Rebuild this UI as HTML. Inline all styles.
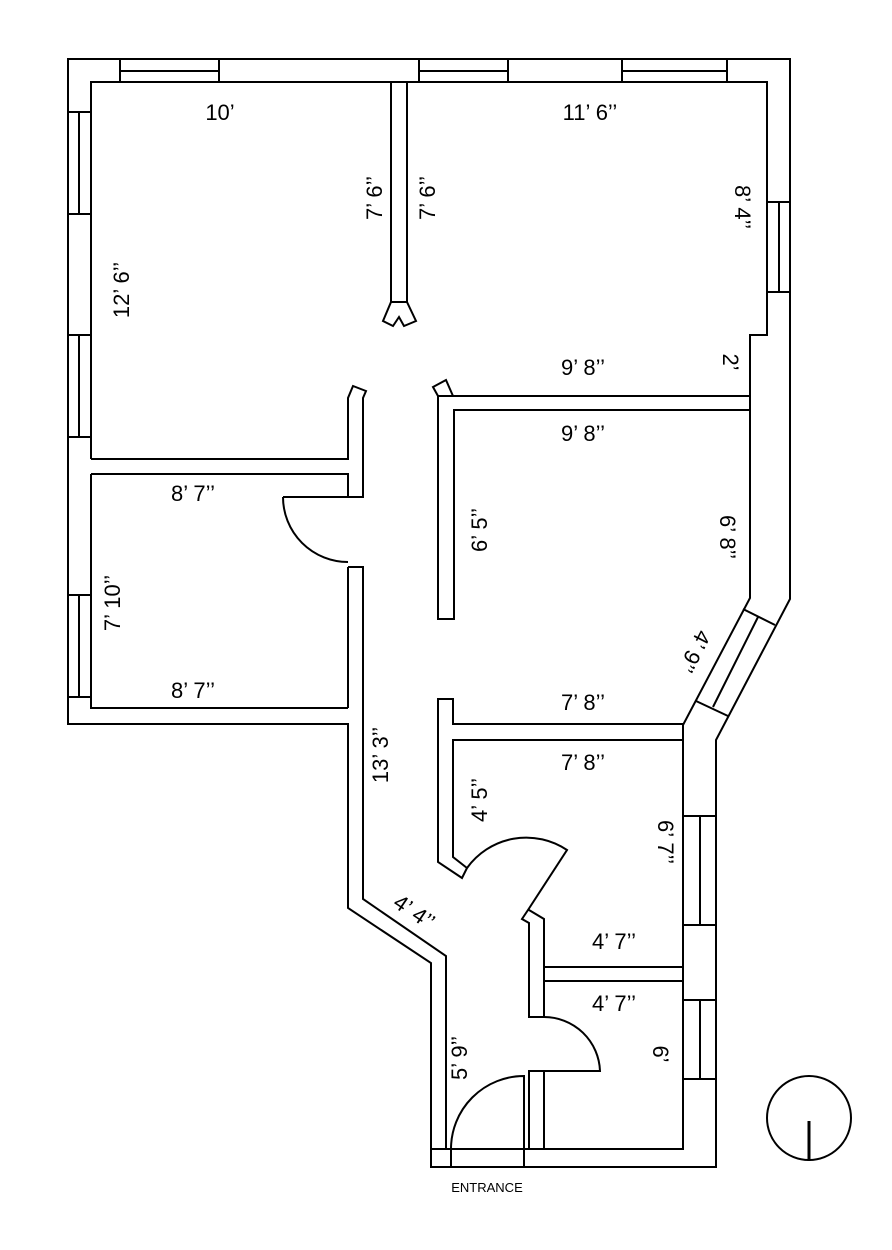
<!DOCTYPE html>
<html><head><meta charset="utf-8"><style>
html,body{margin:0;padding:0;background:#fff;}
svg{display:block;}
text{font-family:"Liberation Sans",sans-serif;font-size:22px;fill:#000;}
</style></head><body>
<svg width="892" height="1250" viewBox="0 0 892 1250" xmlns="http://www.w3.org/2000/svg">
<g fill="none" stroke="#000" stroke-width="2" stroke-linejoin="miter">
<path d="M348,724 L68,724 L68,59 L790,59 L790,599 L716,740 L716,1167 L431,1167 L431,963 L348,908 Z"/>
<path d="M91,459 L91,82 L767,82 L767,335 L750,335 L750,598 L683,725 L683,1149 L431,1149"/>
<path d="M68,112 H91 M68,214 H91 M79,112 V214"/>
<path d="M68,335 H91 M68,437 H91 M79,335 V437"/>
<path d="M68,595 H91 M68,697 H91 M79,595 V697"/>
<path d="M91,474 V708 H348"/>
<path d="M120,59 V82 M219,59 V82 M120,71 H219"/>
<path d="M419,59 V82 M508,59 V82 M419,71 H508"/>
<path d="M622,59 V82 M727,59 V82 M622,71 H727"/>
<path d="M767,202 H790 M767,292 H790 M779,202 V292"/>
<path d="M743,609 L775,625 M696,701 L728,716 M758,617 L713,707"/>
<path d="M683,816 H716 M683,925 H716 M683,1000 H716 M683,1079 H716 M700,816 V925 M700,1000 V1079"/>
<path d="M391,82 V302 L383,321 L393,326 L399,317 L404,326 L416,321 L407,302 V82 M391,302 H407"/>
<path d="M91,459 H348 V398 L353,386 L366,391 L363,398 V497 H283"/>
<path d="M91,474 H348 V497"/>
<path d="M283,497 A65,65 0 0 0 348,562"/>
<path d="M348,567 H363 V899 L446,956 V1149"/>
<path d="M348,567 V708"/>
<path d="M750,396 H438 L433,387 L446,380 L453,396 M438,396 V619 H454 V410 H750"/>
<path d="M683,724 H453 V699 H438 V862 L462,878 L467,868 L453,857 V740 H683"/>
<path d="M467,868 A73,73 0 0 1 567,850 L528,910 L522,919 L529,923 V1017 H544 V919 L529,910"/>
<path d="M544,967 H683 M544,981 H683"/>
<path d="M544,1017 A56,56 0 0 1 600,1071 H529 V1149 M544,1071 V1149"/>
<path d="M451,1149 V1167 M524,1149 V1167"/>
<path d="M524,1149 V1076 A73,73 0 0 0 451,1149"/>
<circle cx="809" cy="1118" r="42"/>
</g>
<line x1="809" y1="1121" x2="809" y2="1161" stroke="#000" stroke-width="3"/>
<g text-anchor="middle">
<text x="220" y="120">10’</text>
<text x="590" y="120">11’ 6’’</text>
<text x="583" y="375">9’ 8’’</text>
<text x="583" y="441">9’ 8’’</text>
<text x="193" y="501">8’ 7’’</text>
<text x="193" y="698">8’ 7’’</text>
<text x="583" y="710">7’ 8’’</text>
<text x="583" y="770">7’ 8’’</text>
<text x="614" y="949">4’ 7’’</text>
<text x="614" y="1011">4’ 7’’</text>
<text transform="translate(382,198) rotate(-90)">7’ 6’’</text>
<text transform="translate(435,198) rotate(-90)">7’ 6’’</text>
<text transform="translate(129,290) rotate(-90)">12’ 6’’</text>
<text transform="translate(120,603) rotate(-90)">7’ 10’’</text>
<text transform="translate(487,530) rotate(-90)">6’ 5’’</text>
<text transform="translate(388,755) rotate(-90)">13’ 3’’</text>
<text transform="translate(487,800) rotate(-90)">4’ 5’’</text>
<text transform="translate(467,1058) rotate(-90)">5’ 9’’</text>
<text transform="translate(735,207) rotate(90)">8’ 4’’</text>
<text transform="translate(723,362) rotate(90)">2’</text>
<text transform="translate(720,537) rotate(90)">6’ 8’’</text>
<text transform="translate(658,842) rotate(90)">6’ 7’’</text>
<text transform="translate(653,1054) rotate(90)">6’</text>
<text transform="translate(688,648) rotate(117)">4’ 9’’</text>
<text transform="translate(410,918) rotate(34)">4’ 4’’</text>
<text x="487" y="1192" style="font-size:13px">ENTRANCE</text>
</g>
</svg>
</body></html>
